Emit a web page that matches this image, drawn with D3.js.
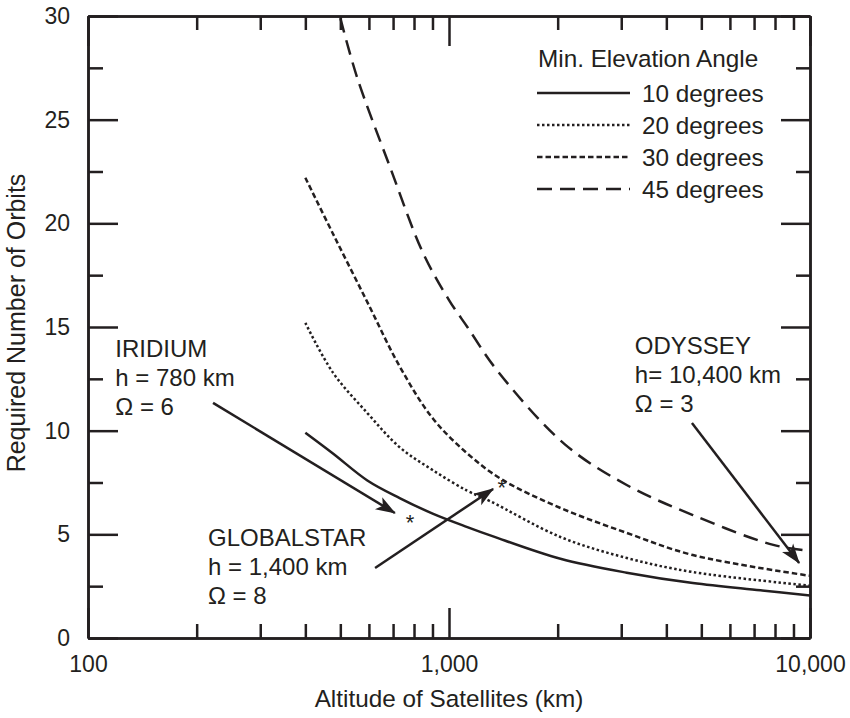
<!DOCTYPE html>
<html>
<head>
<meta charset="utf-8">
<script src="https://cdn.jsdelivr.net/npm/d3@7"></script>
<style>
  body { margin: 0; background: #fff; }
  svg text { font-family: "Liberation Sans", Arial, Helvetica, sans-serif; fill: #231f20; }
</style>
</head>
<body>
<svg id="chart" width="850" height="718"></svg>
<script>
// altitude (km) and required number of orbits
var alt10 = [400, 477, 594, 730, 901, 1124, 1325, 2036, 3106, 4737, 7290, 10000];
var orb10 = [9.9, 8.9, 7.6, 6.75, 6.0, 5.35, 4.9, 3.82, 3.15, 2.65, 2.3, 2.05];

var alt20 = [400, 477, 594, 730, 901, 1124, 1300, 2036, 3106, 4737, 10000];
var orb20 = [15.2, 12.8, 10.85, 9.2, 8.1, 7.1, 6.6, 4.87, 3.86, 3.18, 2.53];

var alt30 = [400, 477, 594, 730, 901, 1124, 1400, 2036, 3106, 4737, 10000];
var orb30 = [22.2, 19.5, 16.2, 13.1, 10.6, 8.9, 7.65, 6.27, 5.07, 4.0, 3.0];

var alt45 = [500, 556, 687, 846, 1000, 1124, 1360, 2090, 3106, 4737, 7913, 10000];
var orb45 = [29.9, 27.06, 22.7, 18.6, 16.3, 15.0, 12.9, 9.35, 7.38, 5.93, 4.49, 4.2];

var seriesNames = ['10 degrees', '20 degrees', '30 degrees', '45 degrees'];
var seriesDash = ['none', '2.5,2.5', '5.5,3', '15,8'];

var xTicksMajor = [100, 1000, 10000];
var xTickLabels = ['100', '1,000', '10,000'];
var xTicksMinor = [200, 300, 400, 500, 600, 700, 800, 900, 2000, 3000, 4000, 5000, 6000, 7000, 8000, 9000];
var yTicksMajor = [0, 5, 10, 15, 20, 25, 30];
var yTicksMinor = [2.5, 7.5, 12.5, 17.5, 22.5, 27.5];

// annotations: [altitude, orbits] in data units
var notes = [
  { lines: ['IRIDIUM', 'h = 780 km', '\u03A9 = 6'], at: [119, 13.56], from: [222, 11.34], to: [708, 6.03], star: [780, 5.8] },
  { lines: ['GLOBALSTAR', 'h = 1,400 km', '\u03A9 = 8'], at: [215, 4.44], from: [624, 3.38], to: [1325, 7.19], star: [1400, 7.5] },
  { lines: ['ODYSSEY', 'h= 10,400 km', '\u03A9 = 3'], at: [3272, 13.7], from: [4710, 10.37], to: [9330, 3.62], star: null }
];

var ink = '#231f20';
var svg = d3.select('#chart');

var x = d3.scaleLog().domain([100, 10000]).range([88, 810]);
var y = d3.scaleLinear().domain([0, 30]).range([638, 16]);

var series = [
  d3.zip(alt10, orb10),
  d3.zip(alt20, orb20),
  d3.zip(alt30, orb30),
  d3.zip(alt45, orb45)
];

// arrow head
svg.append('defs').append('marker')
  .attr('id', 'head')
  .attr('markerUnits', 'userSpaceOnUse')
  .attr('viewBox', '-20 -8 22 16')
  .attr('refX', 0).attr('refY', 0)
  .attr('markerWidth', 22).attr('markerHeight', 16)
  .attr('orient', 'auto')
  .append('path')
    .attr('d', 'M1,0 L-19,-7 L-14,0 L-19,7 Z')
    .attr('fill', ink);

// curves
var line = d3.line()
  .x(function(d){ return x(d[0]); })
  .y(function(d){ return y(d[1]); })
  .curve(d3.curveCatmullRom.alpha(0.5));

svg.append('g').selectAll('path')
  .data(series)
  .enter().append('path')
    .attr('d', line)
    .attr('fill', 'none')
    .attr('stroke', ink)
    .attr('stroke-width', 2.5)
    .attr('stroke-dasharray', function(d, i){ return seriesDash[i]; });

// frame with inward ticks (major long, minor short)
function ticks(axis, values, size, fmt){
  return axis.tickValues(values).tickSize(size).tickSizeOuter(0).tickFormat(fmt || '');
}

var frame = svg.append('g').attr('class', 'frame');

frame.append('g').attr('transform', 'translate(0,638)')
  .call(ticks(d3.axisBottom(x), xTicksMajor, -30, function(d, i){ return xTickLabels[i]; }));
frame.append('g').attr('transform', 'translate(0,638)')
  .call(ticks(d3.axisBottom(x), xTicksMinor, -14));
frame.append('g').attr('transform', 'translate(0,16)')
  .call(ticks(d3.axisTop(x), xTicksMajor, -30));
frame.append('g').attr('transform', 'translate(0,16)')
  .call(ticks(d3.axisTop(x), xTicksMinor, -14));

frame.append('g').attr('transform', 'translate(88,0)')
  .call(ticks(d3.axisLeft(y), yTicksMajor, -30, d3.format('d')));
frame.append('g').attr('transform', 'translate(88,0)')
  .call(ticks(d3.axisLeft(y), yTicksMinor, -15));
frame.append('g').attr('transform', 'translate(810,0)')
  .call(ticks(d3.axisRight(y), yTicksMajor, -29));
frame.append('g').attr('transform', 'translate(810,0)')
  .call(ticks(d3.axisRight(y), yTicksMinor, -14));

frame.selectAll('.domain, .tick line')
  .attr('stroke', ink)
  .attr('stroke-width', 2.5);

frame.selectAll('.tick text')
  .attr('font-size', 23)
  .style('font-family', '"Liberation Sans", Arial, sans-serif')
  .attr('fill', ink);

// push labels off the frame, ticks point inward so d3 spacing is wrong
frame.selectAll('.tick text').filter(function(){ return this.getAttribute('dy') === '0.71em'; })
  .attr('y', 18);
frame.selectAll('.tick text').filter(function(){ return this.getAttribute('dy') === '0.32em'; })
  .attr('x', -18);

// axis titles
svg.append('text')
  .attr('x', 449).attr('y', 707)
  .attr('text-anchor', 'middle')
  .attr('font-size', 24.3)
  .text('Altitude of Satellites (km)');

svg.append('text')
  .attr('transform', 'translate(25,323) rotate(-90)')
  .attr('text-anchor', 'middle')
  .attr('font-size', 25)
  .text('Required Number of Orbits');

// legend
var legend = svg.append('g').attr('class', 'legend');
legend.append('text')
  .attr('x', 538).attr('y', 67)
  .attr('font-size', 24.3)
  .text('Min. Elevation Angle');

var rows = legend.selectAll('g.row')
  .data(seriesNames)
  .enter().append('g')
    .attr('class', 'row')
    .attr('transform', function(d, i){ return 'translate(0,' + (93 + i * 32) + ')'; });

rows.append('line')
  .attr('x1', 537).attr('x2', 630)
  .attr('stroke', ink)
  .attr('stroke-width', 2.5)
  .attr('stroke-dasharray', function(d, i){ return seriesDash[i]; });

rows.append('text')
  .attr('x', 642).attr('y', 9)
  .attr('font-size', 24.3)
  .text(function(d){ return d; });

// annotations
var ann = svg.append('g').attr('class', 'notes');

notes.forEach(function(n){
  var t = ann.append('text')
    .attr('x', x(n.at[0])).attr('y', y(n.at[1]))
    .attr('font-size', 24);
  n.lines.forEach(function(s, i){
    t.append('tspan')
      .attr('x', x(n.at[0]))
      .attr('dy', i === 0 ? 0 : 29)
      .text(s);
  });

  ann.append('line')
    .attr('x1', x(n.from[0])).attr('y1', y(n.from[1]))
    .attr('x2', x(n.to[0])).attr('y2', y(n.to[1]))
    .attr('stroke', ink)
    .attr('stroke-width', 2.5)
    .attr('marker-end', 'url(#head)');

  if (n.star) {
    ann.append('text')
      .attr('x', x(n.star[0])).attr('y', y(n.star[1]))
      .attr('dy', '0.55em')
      .attr('text-anchor', 'middle')
      .attr('font-size', 22)
      .text('*');
  }
});
</script>
</body>
</html>
